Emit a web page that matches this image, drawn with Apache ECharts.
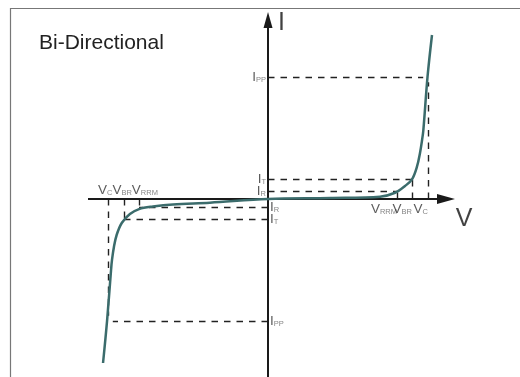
<!DOCTYPE html>
<html>
<head>
<meta charset="utf-8">
<script src="https://cdn.jsdelivr.net/npm/echarts@6/dist/echarts.min.js"></script>
<style>
html,body{margin:0;padding:0;background:#fff;}
#main{width:520px;height:377px;}
</style>
</head>
<body>
<div id="main"></div>
<script>
// I-V curve (V, I)
var curveV = [-10.31,-10.06,-9.81,-9.75,-9.63,-9.46,-9.14,-8.63,-8.06,-7.19,-5.94,-3.63,0,3.88,7.0,7.94,8.56,9.0,9.31,9.5,9.63,9.71,9.97,10.25];
var curveI = [-10.25,-7.63,-4.44,-3.81,-3.0,-2.25,-1.5,-0.94,-0.63,-0.47,-0.34,-0.23,0,0.06,0.14,0.39,0.81,1.23,2.02,2.88,3.69,4.31,7.63,10.25];
// voltage marks and how far up their dashed line runs
var vNames = ['RRM','BR','C'];
var vVals = [8.06, 9.0, 10.0];
var vReach = [0.5, 1.25, 7.3];
// current marks and how far across their dashed line runs
var iNames = ['R','T','PP'];
var iVals = [0.5, 1.25, 7.63];
var iReach = [8.06, 9.0, 9.7];
// axis extent
var axisV = [-11.25, 11.125];
var axisI = [-11.125, 11.19];

var font = "'Liberation Sans', Arial, sans-serif";
var rich = {
    m: {fontSize: 13.5, color: '#333', fontFamily: font, verticalAlign: 'bottom', lineHeight: 14},
    s: {fontSize: 7.5, color: '#666', fontFamily: font, verticalAlign: 'bottom', lineHeight: 10}
};
function sub(letter, name){
    return '{m|' + letter + '}{s|' + name + '}';
}

var curve = [];
for (var i = 0; i < curveV.length; i++) {
    curve.push([curveV[i], curveI[i]]);
}

// dashed guide lines on both sides
var guides = [];
[1, -1].forEach(function(s){
    for (var k = 0; k < 3; k++) {
        guides.push([{coord: [0, s * iVals[k]]}, {coord: [s * iReach[k], s * iVals[k]]}]);
        guides.push([{coord: [s * vVals[k], 0]}, {coord: [s * vVals[k], s * vReach[k]]}]);
    }
});

// labels
var labels = [];
for (var k = 0; k < 3; k++) {
    labels.push({value: [0, iVals[k]], label: {position: 'left', distance: 2, formatter: sub('I', iNames[k])}});
    labels.push({value: [0, -iVals[k]], label: {position: 'right', distance: 2, formatter: sub('I', iNames[k])}});
    labels.push({value: [vVals[k], 0], label: {position: 'bottom', distance: 3, align: 'right', formatter: sub('V', vNames[k])}});
}
labels.push({value: [-vVals[2], 0], label: {position: 'top', distance: 2, align: 'left', offset: [-10, 0],
    formatter: sub('V', vNames[2]) + sub('V', vNames[1]) + sub('V', vNames[0])}});
labels.push({value: [0, axisI[1]], label: {position: 'right', distance: 10, offset: [0, 3], fontSize: 25, color: '#111', fontFamily: font, formatter: 'I'}});
labels.push({value: [axisV[1], 0], label: {position: 'inside', offset: [18, 20], fontSize: 25, color: '#111', fontFamily: font, formatter: 'V'}});

var myChart = echarts.init(document.getElementById('main'));
var option = {
    animation: false,
    title: {
        text: 'Bi-Directional',
        left: 34,
        top: 28,
        textStyle: {fontSize: 21, fontWeight: 'normal', color: '#222', fontFamily: font}
    },
    // frame: only the left and top edges show in the picture
    graphic: [{
        type: 'polyline',
        silent: true,
        shape: {points: [[10.5, 377], [10.5, 8.5], [520, 8.5]]},
        style: {stroke: '#777', lineWidth: 1.2, fill: null}
    }],
    grid: {
        left: 0,
        top: 0,
        right: 0,
        bottom: 0
    },
    xAxis: {
        type: 'value',
        min: -16.75,
        max: 15.75,
        show: false
    },
    yAxis: {
        type: 'value',
        min: -11.125,
        max: 12.4375,
        show: false
    },
    series: [
        {
            // dashed guides
            type: 'line',
            data: [],
            markLine: {
                silent: true,
                symbol: 'none',
                label: {show: false},
                lineStyle: {type: [6.5, 6], color: '#222', width: 1.4},
                data: guides
            }
        },
        {
            // axes with arrows
            type: 'line',
            data: [],
            markLine: {
                silent: true,
                symbol: ['none', 'triangle'],
                symbolSize: [10, 18],
                label: {show: false},
                lineStyle: {type: 'solid', color: '#1a1a1a', width: 2},
                data: [
                    [{coord: [axisV[0], 0]}, {coord: [axisV[1], 0]}],
                    [{coord: [0, axisI[0]]}, {coord: [0, axisI[1]], symbolSize: [9, 16]}]
                ]
            }
        },
        {
            type: 'line',
            data: curve,
            smooth: 0.35,
            showSymbol: false,
            z: 5,
            lineStyle: {color: '#3b6c6c', width: 2.5}
        },
        {
            type: 'scatter',
            symbolSize: 0,
            silent: true,
            data: labels,
            label: {show: true, rich: rich}
        }
    ]
};
myChart.setOption(option);
</script>
</body>
</html>
